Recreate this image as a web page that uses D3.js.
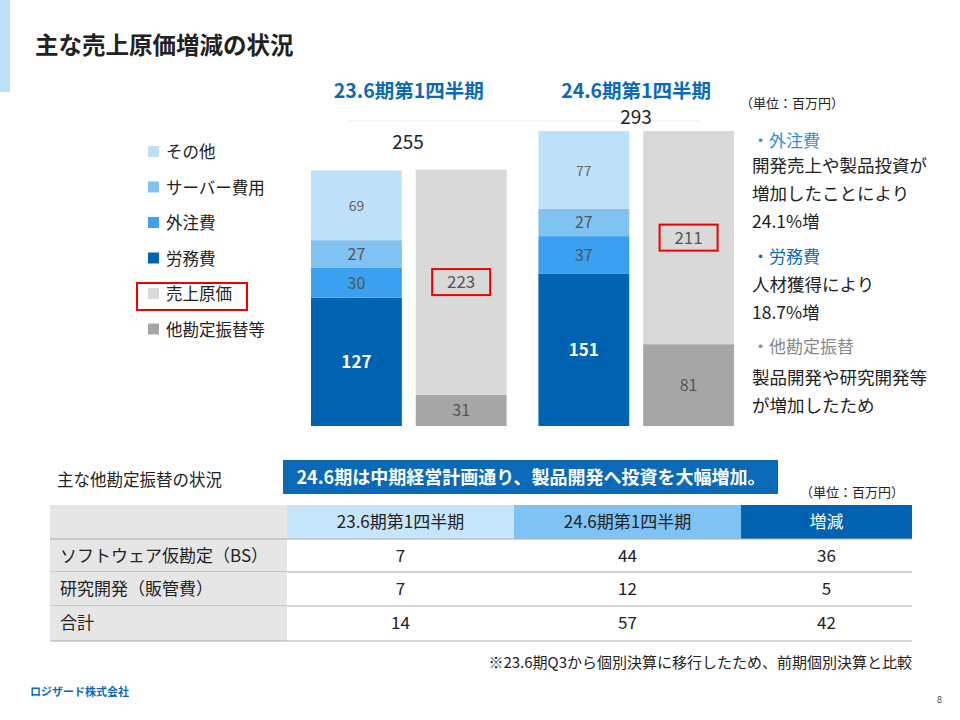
<!DOCTYPE html>
<html><head><meta charset="utf-8">
<script src="https://cdn.jsdelivr.net/npm/d3@7"></script>
<style>body{margin:0;background:#fff}text{font-family:"Noto Sans CJK JP","Noto Sans",sans-serif}</style>
</head><body>
<svg id="c" width="960" height="720"></svg>
<script>
const periods = ["23.6期第1四半期", "24.6期第1四半期"];
const seriesNames = ["労務費", "外注費", "サーバー費用", "その他"];
const costValues = [[127, 30, 27, 69], [151, 37, 27, 77]];
const totals = [255, 293];
const transferValues = [31, 81];
const costOfSales = [223, 211];
const legendNames = ["その他", "サーバー費用", "外注費", "労務費", "売上原価", "他勘定振替等"];
const colors = {"労務費": "#0063b1", "外注費": "#3aa0ef", "サーバー費用": "#80c2f2", "その他": "#bee0f9", "売上原価": "#d9d9d9", "他勘定振替等": "#a6a6a6"};
const tableHeader = ["", "23.6期第1四半期", "24.6期第1四半期", "増減"];
const tableRows = [["ソフトウェア仮勘定（BS）", 7, 44, 36], ["研究開発（販管費）", 7, 12, 5], ["合計", 14, 57, 42]];

const svg = d3.select("#c");
svg.append("rect").attr("x", 0).attr("y", 0).attr("width", 10).attr("height", 92).attr("fill", "#bde0fa");
svg.append("text").attr("x", 35).attr("y", 54).attr("font-size", 23.5).attr("font-weight", "bold").attr("fill", "#222").text("主な売上原価増減の状況");

// chart
const y = d3.scaleLinear().domain([0, 100]).range([426, 325]);
const x0 = d3.scaleBand().domain(periods).range([311, 734]).paddingInner(0.14);
const x1 = d3.scaleBand().domain(["cost", "sales"]).range([0, x0.bandwidth()]).paddingInner(0.133);
svg.append("line").attr("x1", 348).attr("x2", 700).attr("y1", 121).attr("y2", 121).attr("stroke", "#eee");

periods.forEach((p, i) => {
  const xa = x0(p) + x1("cost"), xb = x0(p) + x1("sales"), w = x1.bandwidth();
  svg.append("text").attr("x", x0(p) + x0.bandwidth() / 2).attr("y", 98).attr("text-anchor", "middle")
    .attr("font-size", 19.5).attr("font-weight", "bold").attr("fill", "#0a6ab8").text(p);
  let acc = 0;
  costValues[i].forEach((v, k) => {
    const name = seriesNames[k];
    svg.append("rect").attr("x", xa).attr("width", w).attr("y", y(acc + v)).attr("height", y(acc) - y(acc + v)).attr("fill", colors[name]);
    svg.append("text").attr("x", xa + w / 2).attr("y", (y(acc) + y(acc + v)) / 2 + 6).attr("text-anchor", "middle")
      .attr("font-size", k == 3 ? 14 : (k == 0 ? 17 : 16)).attr("font-weight", k == 0 ? "bold" : "normal")
      .attr("fill", k == 0 ? "#fff" : (k == 3 ? "#666" : "#555")).text(v);
    acc += v;
  });
  const t = transferValues[i], c = costOfSales[i];
  svg.append("rect").attr("x", xb).attr("width", w).attr("y", y(t)).attr("height", y(0) - y(t)).attr("fill", colors["他勘定振替等"]);
  svg.append("rect").attr("x", xb).attr("width", w).attr("y", y(t + c)).attr("height", y(t) - y(t + c)).attr("fill", colors["売上原価"]);
  svg.append("text").attr("x", xb + w / 2).attr("y", (y(0) + y(t)) / 2 + 6).attr("text-anchor", "middle").attr("font-size", 16).attr("fill", "#555").text(t);
  const cy = (y(t) + y(t + c)) / 2;
  svg.append("rect").attr("x", xb + w / 2 - 29).attr("y", cy - 13).attr("width", 58).attr("height", 26).attr("fill", "none").attr("stroke", "#e00").attr("stroke-width", 2);
  svg.append("text").attr("x", xb + w / 2).attr("y", cy + 6).attr("text-anchor", "middle").attr("font-size", 17).attr("fill", "#555").text(c);
  svg.append("text").attr("x", i == 0 ? 408 : 636).attr("y", i == 0 ? 149 : 124).attr("text-anchor", "middle").attr("font-size", 19).attr("fill", "#222").text(totals[i]);
});

// legend
legendNames.forEach((n, i) => {
  const ly = 152 + i * 35.5;
  svg.append("rect").attr("x", 148).attr("y", ly - 6).attr("width", 11).attr("height", 11).attr("fill", colors[n]);
  svg.append("text").attr("x", 166).attr("y", ly + 6).attr("font-size", 16.5).attr("fill", "#222").text(n);
});
svg.append("rect").attr("x", 137).attr("y", 283).attr("width", 110).attr("height", 27).attr("fill", "none").attr("stroke", "#e00").attr("stroke-width", 2);

// right notes
const notes = [
  [740, 108, "（単位：百万円）", 13, "#222"],
  [752, 147, "・外注費", 17, "#2b8fe0"],
  [752, 172, "開発売上や製品投資が", 17.5, "#222"],
  [752, 200, "増加したことにより", 17.5, "#222"],
  [752, 228, "24.1%増", 17.5, "#222"],
  [752, 263, "・労務費", 17, "#0a6ab8"],
  [752, 291, "人材獲得により", 17.5, "#222"],
  [752, 319, "18.7%増", 17.5, "#222"],
  [752, 353, "・他勘定振替", 17, "#888"],
  [752, 384, "製品開発や研究開発等", 17.5, "#222"],
  [752, 412, "が増加したため", 17.5, "#222"]];
notes.forEach(d => svg.append("text").attr("x", d[0]).attr("y", d[1]).attr("font-size", d[3]).attr("fill", d[4]).text(d[2]));

// lower section
svg.append("text").attr("x", 57).attr("y", 486).attr("font-size", 16.5).attr("fill", "#222").text("主な他勘定振替の状況");
svg.append("rect").attr("x", 283).attr("y", 460).attr("width", 495).attr("height", 34).attr("fill", "#0a6ab8");
svg.append("text").attr("x", 531).attr("y", 484).attr("text-anchor", "middle").attr("font-size", 18).attr("font-weight", "bold").attr("fill", "#fff").text("24.6期は中期経営計画通り、製品開発へ投資を大幅増加。");
svg.append("text").attr("x", 800).attr("y", 497).attr("font-size", 13).attr("fill", "#222").text("（単位：百万円）");

const colX = [50, 287, 514, 741, 912];
const rowY = [505, 539, 572, 606, 641];
const headFill = ["#e6e6e6", "#c6e5fb", "#7fc3f4", "#0063b1"];
tableHeader.forEach((h, j) => {
  svg.append("rect").attr("x", colX[j]).attr("y", rowY[0]).attr("width", colX[j + 1] - colX[j]).attr("height", rowY[1] - rowY[0]).attr("fill", headFill[j]);
  svg.append("text").attr("x", (colX[j] + colX[j + 1]) / 2).attr("y", rowY[0] + 23).attr("text-anchor", "middle").attr("font-size", 17).attr("fill", j == 3 ? "#fff" : "#222").text(h);
});
tableRows.forEach((r, i) => {
  svg.append("rect").attr("x", colX[0]).attr("y", rowY[i + 1]).attr("width", colX[1] - colX[0]).attr("height", rowY[i + 2] - rowY[i + 1]).attr("fill", "#e6e6e6");
  r.forEach((v, j) => svg.append("text").attr("x", j == 0 ? 60 : (colX[j] + colX[j + 1]) / 2).attr("y", rowY[i + 1] + 23)
    .attr("text-anchor", j == 0 ? "start" : "middle").attr("font-size", 17).attr("fill", "#222").text(v));
  svg.append("line").attr("x1", colX[0]).attr("x2", colX[4]).attr("y1", rowY[i + 2]).attr("y2", rowY[i + 2]).attr("stroke", "#aaa");
});
svg.append("line").attr("x1", colX[0]).attr("x2", colX[4]).attr("y1", rowY[1]).attr("y2", rowY[1]).attr("stroke", "#aaa");

svg.append("text").attr("x", 912).attr("y", 668).attr("text-anchor", "end").attr("font-size", 15).attr("fill", "#222").text("※23.6期Q3から個別決算に移行したため、前期個別決算と比較");
svg.append("text").attr("x", 30).attr("y", 696).attr("font-size", 11).attr("font-weight", "bold").attr("fill", "#0a6ab8").text("ロジザード株式会社");
svg.append("text").attr("x", 942).attr("y", 703).attr("text-anchor", "end").attr("font-size", 9).attr("fill", "#444").text("8");
</script>
</body></html>
